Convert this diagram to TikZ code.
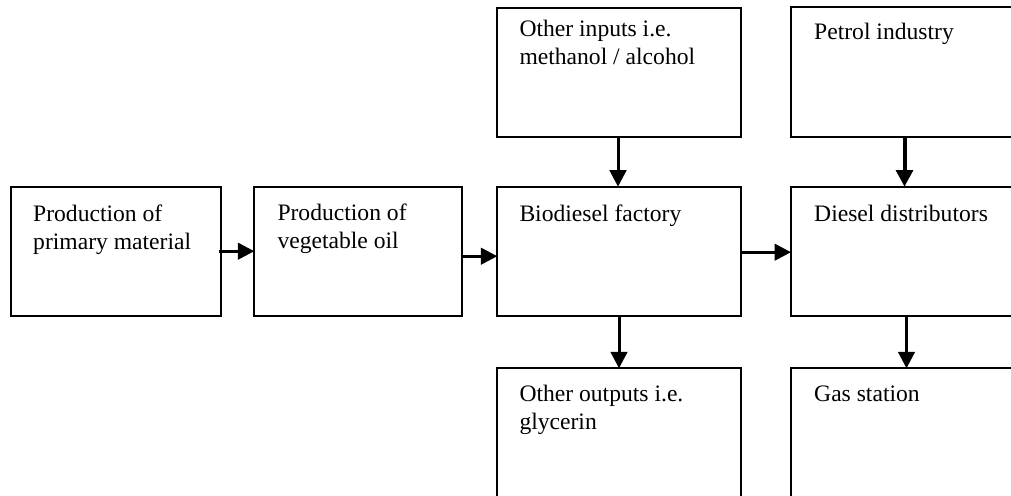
\documentclass[tikz,border=0pt]{standalone}
\usepackage{fontspec}
\setmainfont{Liberation Serif}
\usetikzlibrary{arrows.meta}
\tikzset{
  box/.style={draw, line width=2pt, rectangle, outer sep=0pt, inner sep=0pt, anchor=north west, minimum height=129pt},
  txt/.style={anchor=base west, inner sep=0pt, font=\fontsize{23.6}{27.7}\selectfont},
  flow/.style={line width=3pt, -{Triangle[length=16.5pt,width=16.5pt]}},
  thickflow/.style={line width=4pt, -{Triangle[length=16.5pt,width=16.5pt]}}
}
\begin{document}
\begin{tikzpicture}[x=1pt,y=-1pt]
\clip (0,0) rectangle (1011,495);
\fill[white] (0,0) rectangle (1011,495);
% boxes
\node[box, minimum width=209.7pt] (b1) at (11,186.7) {};
\node[box, minimum width=207.4pt] (b2) at (254.3,186.7) {};
\node[box, minimum width=243.4pt] (b3) at (497.3,186.7) {};
\node[box, minimum width=231pt] (b4) at (791,186.7) {};
\node[box, minimum width=243.4pt] (t1) at (497.3,8) {};
\node[box, minimum width=231pt, minimum height=129.4pt] (t2) at (791,7.3) {};
\node[box, minimum width=243.4pt] (o1) at (497.3,368.3) {};
\node[box, minimum width=231pt] (o2) at (791,368.3) {};
% texts
\node[txt] (l1) at ([shift={(22pt,-35pt)}]b1.north west) {\parbox[t]{190pt}{Production of\\primary material}};
\node[txt] (l2) at ([shift={(23pt,-34pt)}]b2.north west) {\parbox[t]{190pt}{Production of\\vegetable oil}};
\node[txt] (l3) at ([shift={(22pt,-35pt)}]b3.north west) {Biodiesel factory};
\node[txt] (l4) at ([shift={(23pt,-35pt)}]b4.north west) {Diesel distributors};
\node[txt] (l5) at ([shift={(22pt,-29pt)}]t1.north west) {\parbox[t]{220pt}{Other inputs i.e.\\methanol / alcohol}};
\node[txt] (l6) at ([shift={(23pt,-32pt)}]t2.north west) {Petrol industry};
\node[txt] (l7) at ([shift={(22pt,-33.4pt)}]o1.north west) {\parbox[t]{220pt}{Other outputs i.e.\\glycerin}};
\node[txt] (l8) at ([shift={(23pt,-33.4pt)}]o2.north west) {Gas station};
% connectors
\draw[flow] ([xshift=-2pt]b1.east) -- (b2.west);
\draw[flow] ([yshift=-5pt]b2.east) -- ([yshift=-5pt]b3.west);
\draw[flow] ([yshift=-1pt]b3.east) -- ([yshift=-1pt]b4.west);
\draw[flow] ([xshift=-1pt]t1.south) -- ([xshift=-1pt]b3.north);
\draw[thickflow] ([xshift=-2pt]t2.south) -- ([xshift=-2pt]b4.north);
\draw[flow] (b3.south) -- (o1.north);
\draw[flow] (b4.south) -- (o2.north);
\end{tikzpicture}
\end{document}
